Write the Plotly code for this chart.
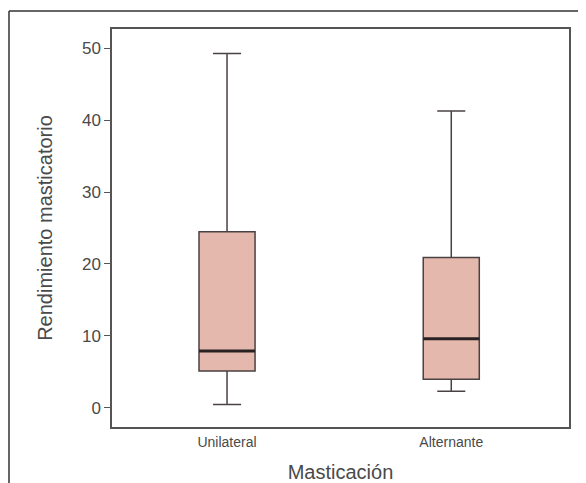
import plotly.graph_objects as go

categories = ["Unilateral", "Alternante"]
lower_whisker = [0.45, 2.3]
q1_values = [5.1, 3.95]
median_values = [7.9, 9.6]
q3_values = [24.5, 20.9]
upper_whisker = [49.3, 41.3]
y_ticks = [0, 10, 20, 30, 40, 50]

FILL = "#E4B8AD"
EDGE = "#4A4242"
FONT = "Liberation Sans, Arial, sans-serif"
TXT = "#4A4A4A"

fig = go.Figure()
fig.add_trace(go.Box(
    x=categories,
    q1=q1_values, median=median_values, q3=q3_values,
    lowerfence=lower_whisker, upperfence=upper_whisker,
    fillcolor=FILL, line=dict(color=EDGE, width=1.5),
    width=0.25, whiskerwidth=0.5, boxpoints=False,
    showlegend=False, hoverinfo="skip",
))
# thick median line drawn as a degenerate box
fig.add_trace(go.Box(
    x=categories,
    q1=median_values, median=median_values, q3=median_values,
    lowerfence=median_values, upperfence=median_values,
    fillcolor="rgba(0,0,0,0)", line=dict(color="#2A2222", width=3),
    width=0.25, whiskerwidth=0, boxpoints=False,
    showlegend=False, hoverinfo="skip",
))

fig.update_layout(
    width=578, height=475,
    margin=dict(l=104, r=17, t=21, b=56),
    paper_bgcolor="white", plot_bgcolor="white",
    boxmode="overlay",
    font=dict(family=FONT, color=TXT),
    xaxis=dict(
        type="category", range=[-0.513, 1.525], automargin=False,
        showgrid=False, zeroline=False,
        showline=True, mirror=True, linecolor="#555555", linewidth=1.5,
        ticks="", tickfont=dict(size=14, color=TXT),
        ticklabelstandoff=1,
        title=dict(text="Masticación", font=dict(size=20, color=TXT), standoff=23),
    ),
    yaxis=dict(
        range=[-2.69, 52.7], tickvals=y_ticks, automargin=False,
        showgrid=False, zeroline=False,
        showline=True, mirror=True, linecolor="#555555", linewidth=1.5,
        ticks="outside", ticklen=6, tickwidth=1.2, tickcolor="#555555",
        tickfont=dict(size=17, color=TXT),
        title=dict(text="Rendimiento masticatorio", font=dict(size=20, color=TXT), standoff=24),
    ),
    shapes=[
        dict(type="line", xref="paper", yref="paper", x0=-0.2254, x1=1.3, y0=1.0452, y1=1.0452,
             line=dict(color="#333333", width=1.5)),
        dict(type="line", xref="paper", yref="paper", x0=-0.2254, x1=-0.2254, y0=1.0452, y1=-0.3,
             line=dict(color="#333333", width=1.5)),
    ],
)

fig.write_html("out.html")
